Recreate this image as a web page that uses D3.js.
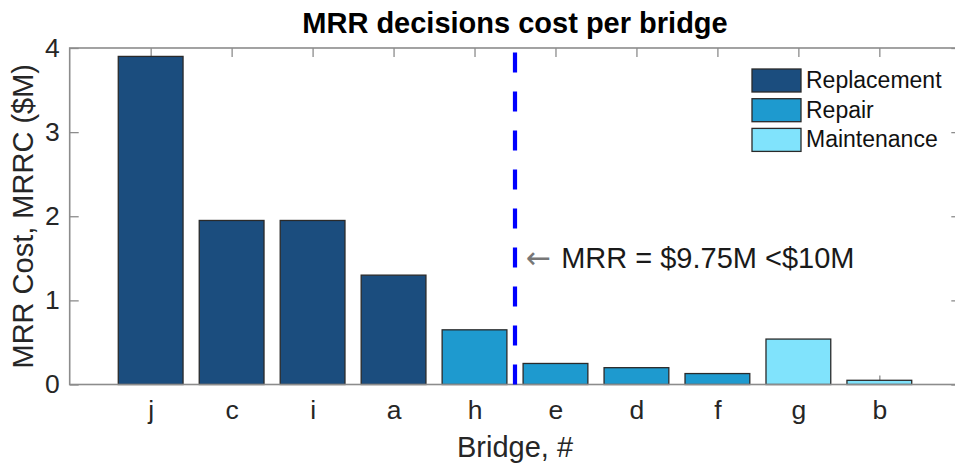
<!DOCTYPE html>
<html>
<head>
<meta charset="utf-8">
<script src="https://cdn.jsdelivr.net/npm/d3@7"></script>
<style>
  html, body { margin: 0; padding: 0; background: #fff; }
  svg { display: block; font-family: "Liberation Sans", Arial, Helvetica, sans-serif; }
</style>
</head>
<body>
<svg id="chart" width="955" height="463"></svg>
<script>
// Bridge MRR (maintenance / repair / replacement) decisions and their cost, $M
const bridges = ["j", "c", "i", "a", "h", "e", "d", "f", "g", "b"];
const costs = [3.9, 1.95, 1.95, 1.3, 0.65, 0.25, 0.2, 0.13, 0.54, 0.05];
const decisions = ["Replacement", "Replacement", "Replacement", "Replacement", "Repair",
                   "Repair", "Repair", "Repair", "Maintenance", "Maintenance"];
const decisionTypes = ["Replacement", "Repair", "Maintenance"];
const decisionColors = ["#1b4d7e", "#1e9acf", "#80e3fc"];
const yTicks = [0, 1, 2, 3, 4];
const budgetCount = 5;          // bridges funded within the budget
const budgetLabel = "MRR = $9.75M <$10M";

const svg = d3.select("#chart");
const plotLeft = 69.7, plotRight = 960.3, plotTop = 48, plotBottom = 384.5;

const x = d3.scaleLinear().domain([0, bridges.length + 1]).range([plotLeft, plotRight]);
const y = d3.scaleLinear().domain([0, 4]).range([plotBottom, plotTop]);
const color = d3.scaleOrdinal().domain(decisionTypes).range(decisionColors);
const positions = bridges.map((_, i) => i + 1);
const barW = x(0.8) - x(0);

const axisColor = "#8c8c8c";
const textColor = "#262626";

function styleAxis(g, fontSize) {
  g.select(".domain").remove();
  g.selectAll(".tick line").attr("stroke", axisColor).attr("stroke-width", 1.3);
  g.selectAll(".tick text").attr("fill", textColor)
    .style("font-size", fontSize + "px")
    .style("font-family", "'Liberation Sans', Arial, sans-serif");
}

// Ticks on all four sides (inward), drawn beneath the bars
svg.append("g").attr("transform", `translate(${plotLeft},0)`)
  .call(d3.axisLeft(y).tickValues(yTicks).tickFormat(d3.format("d"))
    .tickSizeInner(-9).tickSizeOuter(0).tickPadding(10))
  .call(g => styleAxis(g, 26.5));

svg.append("g").attr("transform", `translate(${plotRight},0)`)
  .call(d3.axisRight(y).tickValues(yTicks).tickFormat("")
    .tickSizeInner(-9).tickSizeOuter(0))
  .call(g => styleAxis(g, 26));

svg.append("g").attr("transform", `translate(0,${plotBottom})`)
  .call(d3.axisBottom(x).tickValues(positions).tickFormat(d => bridges[d - 1])
    .tickSizeInner(-9).tickSizeOuter(0).tickPadding(16))
  .call(g => styleAxis(g, 26.5));

svg.append("g").attr("transform", `translate(0,${plotTop})`)
  .call(d3.axisTop(x).tickValues(positions).tickFormat("")
    .tickSizeInner(-9).tickSizeOuter(0))
  .call(g => styleAxis(g, 26));

// Bars
svg.append("g").selectAll("rect")
  .data(bridges.map((b, i) => ({ b, pos: i + 1, v: costs[i], d: decisions[i] })))
  .join("rect")
  .attr("x", d => x(d.pos) - barW / 2)
  .attr("y", d => y(d.v))
  .attr("width", barW)
  .attr("height", d => y(0) - y(d.v))
  .attr("fill", d => color(d.d))
  .attr("stroke", "#2a2a2a")
  .attr("stroke-width", 1.3);

// Axes frame
svg.append("rect")
  .attr("x", plotLeft).attr("y", plotTop)
  .attr("width", plotRight - plotLeft).attr("height", plotBottom - plotTop)
  .attr("fill", "none").attr("stroke", axisColor).attr("stroke-width", 1.6);

// Budget cut-off line between funded and unfunded bridges
const cutX = x(budgetCount + 0.5);
svg.append("line")
  .attr("x1", cutX).attr("x2", cutX)
  .attr("y1", y(0)).attr("y2", y(4))
  .attr("stroke", "#0000ff").attr("stroke-width", 4.2)
  .attr("stroke-dasharray", "20,19");

// Annotation
const note = svg.append("text")
  .attr("x", cutX + 11).attr("y", y(1.38))
  .attr("fill", "#1a1a1a")
  .style("font-size", "29px");
note.append("tspan").attr("fill", "#777").style("font-family", "'DejaVu Sans', sans-serif")
  .style("font-size", "30px").text("\u2190");
note.append("tspan").attr("dx", 10).text(budgetLabel);

// Title and axis labels
svg.append("text")
  .attr("x", (plotLeft + plotRight) / 2).attr("y", 33)
  .attr("text-anchor", "middle")
  .attr("fill", "#000")
  .style("font-weight", "bold").style("font-size", "29px")
  .text("MRR decisions cost per bridge");

svg.append("text")
  .attr("x", (plotLeft + plotRight) / 2).attr("y", 457)
  .attr("text-anchor", "middle")
  .attr("fill", textColor)
  .style("font-size", "29px")
  .text("Bridge, #");

svg.append("text")
  .attr("transform", `translate(33,${(plotTop + plotBottom) / 2}) rotate(-90)`)
  .attr("text-anchor", "middle")
  .attr("fill", textColor)
  .style("font-size", "29px")
  .text("MRR Cost, MRRC ($M)");

// Legend
const legend = svg.append("g").attr("transform", "translate(752,69)");
const rows = legend.selectAll("g").data(decisionTypes).join("g")
  .attr("transform", (d, i) => `translate(0,${i * 29.7})`);
rows.append("rect")
  .attr("width", 49).attr("height", 23)
  .attr("fill", d => color(d))
  .attr("stroke", "#2a2a2a").attr("stroke-width", 1.3);
rows.append("text")
  .attr("x", 54).attr("y", 19)
  .attr("fill", "#111")
  .style("font-size", "23px")
  .text(d => d);
</script>
</body>
</html>
